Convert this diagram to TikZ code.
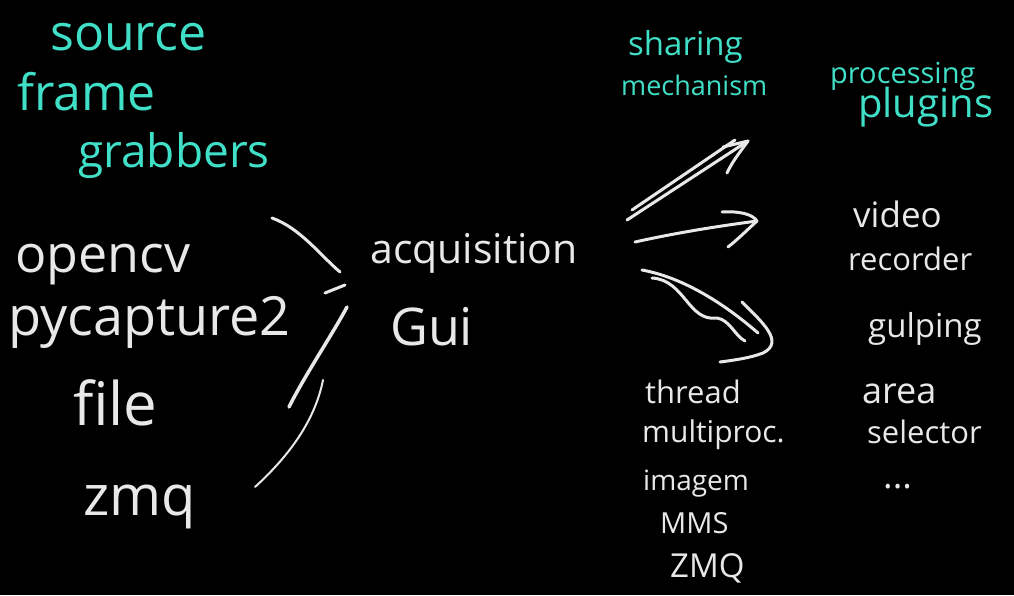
\documentclass[tikz,border=0pt]{standalone}
\usepackage{fontspec}
\setmainfont{Open Sans}
\definecolor{hdcyan}{RGB}{64,224,200}
\definecolor{chalk}{RGB}{232,232,232}
\begin{document}
\begin{tikzpicture}[x=1pt,y=-1pt,
  every node/.style={inner sep=0pt, anchor=base west},
  head/.style={text=hdcyan},
  item/.style={text=chalk},
  fs/.style={font=\fontsize{#1}{#1}\selectfont},
  stroke/.style={draw=chalk, line width=3pt, line cap=round, line join=round},
  thinstroke/.style={stroke, line width=2pt}]
\fill[black] (0,0) rectangle (1014,595);
\useasboundingbox (0,0) rectangle (1014,595);

% cyan headings
\node[head,fs=50] (source) at (50,50) {source};
\node[head,fs=50] (frame) at (17,110) {frame};
\node[head,fs=46] (grabbers) at (78,167) {grabbers};
\node[head,fs=33] (sharing) at (628,55) {sharing};
\node[head,fs=27] (mechanism) at (621,95) {mechanism};
\node[head,fs=29] (processing) at (830,83) {processing};
\node[head,fs=40] (plugins) at (858,117) {plugins};

% sources
\node[item,fs=52] (opencv) at (15,272) {opencv};
\node[item,fs=54] (pycapture) at (8,335) {pycapture2};
\node[item,fs=60] (file) at (73,425) {file};
\node[item,fs=56] (zmq) at (83,515) {zmq};

% acquisition
\node[item,fs=41] (acq) at (370,263) {acquisition};
\node[item,fs=52] (gui) at (390,345) {Gui};

% sharing mechanisms
\node[item,fs=31] (thread) at (645,403) {thread};
\node[item,fs=30] (multiproc) at (642,442) {multiproc.};
\node[item,fs=28] (imagem) at (643,490) {imagem};
\node[item,fs=29] (mms) at (660,533) {MMS};
\node[item,fs=33] (zmqB) at (670,577) {ZMQ};

% plugins
\node[item,fs=35] (video) at (853,227) {video};
\node[item,fs=31] (recorder) at (848,270) {recorder};
\node[item,fs=33] (gulping) at (868,337) {gulping};
\node[item,fs=36] (area) at (862,403) {area};
\node[item,fs=31] (selector) at (867,443) {selector};
\node[item,fs=36] (etc) at (883,488) {...};

% brace strokes
\coordinate (b1s) at (272,218); \coordinate (b1e) at (340,272);
\coordinate (b2s) at (325,293); \coordinate (b2e) at (345,285);
\coordinate (b3s) at (347,307); \coordinate (b3e) at (289,407);
\coordinate (b4s) at (323,380); \coordinate (b4e) at (255,487);
\draw[stroke] (b1s) .. controls (300,228) and (320,255) .. (b1e);
\draw[stroke] (b2s) -- (b2e);
\draw[stroke, line width=3.5pt] (b3s) .. controls (332,335) and (305,375) .. (b3e);
\draw[thinstroke] (b4s) .. controls (315,420) and (290,455) .. (b4e);

% arrow 1
\coordinate (a1s) at (632,210); \coordinate (a1m) at (735,140);
\coordinate (a1t) at (627,220); \coordinate (a1e) at (748,141);
\coordinate (a1h) at (723,147); \coordinate (a1b) at (727,173);
\draw[stroke] (a1s) -- (a1m);
\draw[stroke] (a1t) -- (a1e);
\draw[stroke] (a1h) -- (a1e) .. controls (740,152) and (732,162) .. (a1b);

% arrow 2
\coordinate (a2s) at (635,242); \coordinate (a2e) at (757,221);
\coordinate (a2h) at (722,212); \coordinate (a2b) at (728,247);
\draw[stroke] (a2s) .. controls (680,232) and (720,226) .. (a2e);
\draw[stroke] (a2h) .. controls (740,211) and (752,214) .. (a2e)
  .. controls (745,232) and (737,240) .. (a2b);

% arrow 3
\coordinate (a3s) at (642,270); \coordinate (a3e) at (758,333);
\coordinate (a3w) at (652,278); \coordinate (a3m) at (717,318); \coordinate (a3x) at (745,341);
\coordinate (a3h) at (742,302); \coordinate (a3k) at (763,353); \coordinate (a3b) at (720,362);
\draw[stroke] (a3s) .. controls (680,277) and (720,300) .. (a3e);
\draw[stroke] (a3w) .. controls (685,280) and (688,322) .. (a3m)
  .. controls (730,320) and (735,336) .. (a3x);
\draw[stroke] (a3h) .. controls (762,322) and (785,342) .. (a3k)
  .. controls (750,358) and (735,360) .. (a3b);
\end{tikzpicture}
\end{document}
